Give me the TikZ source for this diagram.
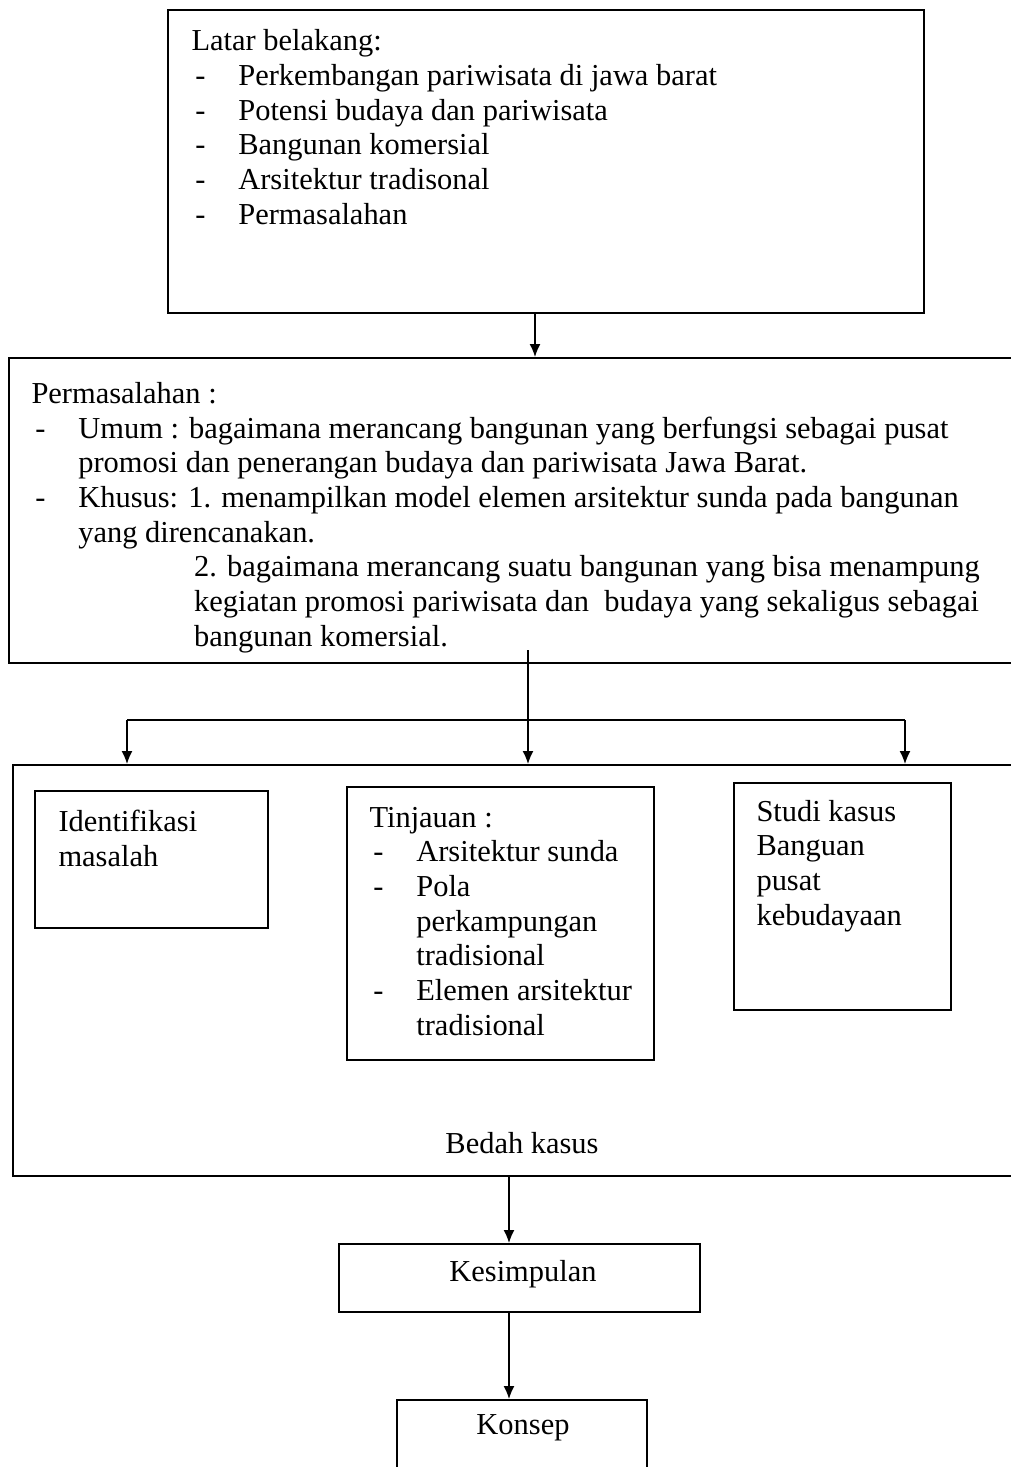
\documentclass[tikz,border=0pt]{standalone}
\usepackage{fontspec}
\setmainfont{Liberation Serif}
\usetikzlibrary{fit,arrows.meta}
\newcommand{\li}{\makebox[18pt][l]{\hspace*{1.5pt}-}}
\begin{document}
\begin{tikzpicture}[x=0.0135cm, y=-0.0135cm,
  box/.style={draw, line width=0.7pt, inner sep=0pt},
  txt/.style={font=\fontsize{11.7}{13.3}\selectfont, align=left, anchor=base west, inner sep=0pt},
  lbl/.style={font=\fontsize{11.7}{13.3}\selectfont, inner sep=0pt},
  arr/.style={line width=0.6pt, -{Latex[length=5pt,width=4.2pt]}}]
	\path[use as bounding box, clip] (0,0) rectangle (1011,1467);
	% boxes
	\node[box, fit={(168,10) (924,313)}] (latar) {};
	\node[box, fit={(9,358) (1040,663)}] (masalah) {};
	\node[box, fit={(13,765) (1040,1176)}] (bedah) {};
	\node[box, fit={(35,791) (268,928)}] (identifikasi) {};
	\node[box, fit={(347,787) (654,1060)}] (tinjauan) {};
	\node[box, fit={(734,783) (951,1010)}] (studi) {};
	\node[box, fit={(339,1244) (700,1312)}] (simpul) {};
	\node[box, fit={(397,1400) (647,1520)}] (konsep) {};
	% texts (anchored at the baseline of their last line)
	\node[txt] (latartxt) at (191,224) {Latar belakang:\\
		\li Perkembangan pariwisata di jawa barat\\
		\li Potensi budaya dan pariwisata\\
		\li Bangunan komersial\\
		\li Arsitektur tradisonal\\
		\li Permasalahan};
	\node[txt] (masalahtxt) at (31,646) {Permasalahan :\\
		\li Umum : bagaimana merancang bangunan yang berfungsi sebagai pusat\\
		\hspace*{18pt}promosi dan penerangan budaya dan pariwisata Jawa Barat.\\
		\li Khusus: 1. menampilkan model elemen arsitektur sunda pada bangunan\\
		\hspace*{18pt}yang direncanakan.\\
		\hspace*{62.5pt}2. bagaimana merancang suatu bangunan yang bisa menampung\\
		\hspace*{62.5pt}kegiatan promosi pariwisata dan\ \ budaya yang sekaligus sebagai\\
		\hspace*{62.5pt}bangunan komersial.};
	\node[txt] (identtxt) at (58,866) {Identifikasi\\masalah};
	\node[txt] (tinjtxt) at (369,1035) {Tinjauan :\\
		\li Arsitektur sunda\\
		\li Pola\\
		\hspace*{18pt}perkampungan\\
		\hspace*{18pt}tradisional\\
		\li Elemen arsitektur\\
		\hspace*{18pt}tradisional};
	\node[txt] (studitxt) at (756,925) {Studi kasus\\Banguan\\pusat\\kebudayaan};
	\node[lbl] (bedahtxt) at (522,1143) {Bedah kasus};
	\node[lbl] (simpultxt) at (523,1274) {Kesimpulan};
	\node[lbl] (konseptxt) at (523,1428) {Konsep};
	% connectors
	\coordinate (a) at (535,0);
	\coordinate (pm) at (528,650);
	\coordinate (jl) at (127,720);
	\coordinate (jr) at (905,720);
	\coordinate (dn) at (509,0);
	\draw[arr] (latar.south -| a) -- (masalah.north -| a);
	\draw[line width=0.6pt] (jl) -- (jr);
	\draw[arr] (pm) -- (bedah.north -| pm);
	\draw[arr] (jl) -- (bedah.north -| jl);
	\draw[arr] (jr) -- (bedah.north -| jr);
	\draw[arr] (bedah.south -| dn) -- (simpul.north -| dn);
	\draw[arr] (simpul.south -| dn) -- (konsep.north -| dn);
\end{tikzpicture}
\end{document}
